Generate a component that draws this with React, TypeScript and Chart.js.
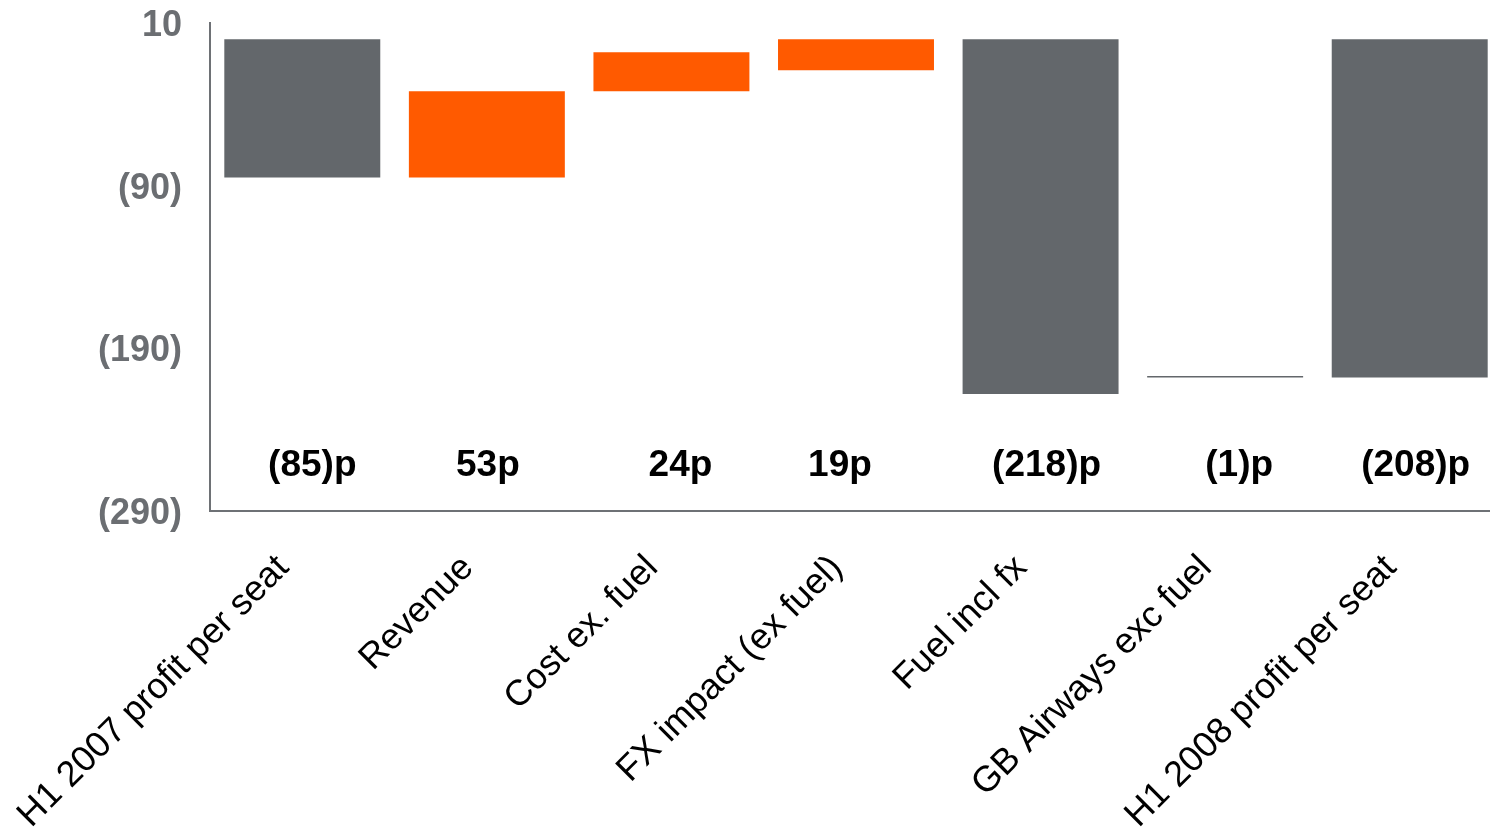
import React, { useEffect, useRef } from "react";
import { Chart, registerables } from "chart.js";

Chart.register(...registerables);

// Profit-per-seat bridge, pence
const categories = [
  "H1 2007 profit per seat",
  "Revenue",
  "Cost ex. fuel",
  "FX impact (ex fuel)",
  "Fuel incl fx",
  "GB Airways exc fuel",
  "H1 2008 profit per seat",
];
// where each floating bar starts, and the change it shows
const barBase = [0, -85, -32, -19, 0, -207, 0];
const barChange = [-85, 53, 24, 19, -218, -1, -208];
const barColors = ["#63676b", "#ff5a00", "#ff5a00", "#ff5a00", "#63676b", "#63676b", "#63676b"];
const yTickValues = [10, -90, -190, -290];
// value labels sit on one common level of the y scale
const labelLevel = -262;
const labelNudge = [10, 1, 9, -16, 6, 14, 6];

const FONT = '"Liberation Sans", Arial, sans-serif';
const AXIS_GREY = "#6e7175";

const fmtPence = (v: number) => (v < 0 ? `(${-v})p` : `${v}p`);
const fmtTick = (v: number) => (v < 0 ? `(${-v})` : `${v}`);

const valueLabels = {
  id: "valueLabels",
  afterDatasetsDraw(chart: any) {
    const meta = chart.getDatasetMeta(0);
    const y = chart.scales.y.getPixelForValue(labelLevel);
    const ctx = chart.ctx;
    ctx.save();
    ctx.font = `bold 37px ${FONT}`;
    ctx.fillStyle = "#000";
    ctx.textAlign = "center";
    ctx.textBaseline = "middle";
    meta.data.forEach((bar: any, i: number) => {
      ctx.fillText(fmtPence(barChange[i]), bar.x + labelNudge[i], y);
    });
    ctx.restore();
  },
};

export default function App() {
  const ref = useRef<HTMLCanvasElement>(null);

  useEffect(() => {
    if (!ref.current) return;
    const chart = new Chart(ref.current, {
      type: "bar",
      data: {
        labels: categories,
        datasets: [
          {
            data: barBase.map((b, i) => [b, b + barChange[i]]) as any,
            backgroundColor: barColors,
            borderWidth: 0,
            categoryPercentage: 1,
            barPercentage: 0.845,
          },
        ],
      },
      options: {
        animation: false,
        responsive: false,
        layout: { padding: { top: 23, right: 0, bottom: 0, left: 0 } },
        plugins: { legend: { display: false }, tooltip: { enabled: false } },
        scales: {
          x: {
            grid: { display: false, drawTicks: false },
            border: { display: true, color: AXIS_GREY, width: 2 },
            ticks: {
              minRotation: 45,
              maxRotation: 45,
              autoSkip: false,
              padding: 36,
              labelOffset: -19,
              color: "#000",
              font: { family: FONT, size: 36 },
            },
            afterFit: (s: any) => {
              s.height = 319;
              s.paddingLeft = 0;
              s.paddingRight = 0;
            },
          },
          y: {
            min: -290,
            max: 10,
            grid: { display: false, drawTicks: false },
            border: { display: true, color: AXIS_GREY, width: 2 },
            ticks: {
              padding: 28,
              labelOffset: 3,
              color: "#6b6e72",
              font: { family: FONT, size: 36, weight: "bold" },
              callback: (v: any) => fmtTick(Number(v)),
            },
            afterBuildTicks: (s: any) => {
              s.ticks = yTickValues.map((v) => ({ value: v }));
            },
            afterFit: (s: any) => {
              s.width = 210;
              s.paddingTop = 0;
              s.paddingBottom = 0;
            },
          },
        },
      },
      plugins: [valueLabels],
    });
    return () => chart.destroy();
  }, []);

  return (
    <div
      style={{
        position: "fixed",
        left: 0,
        top: 0,
        width: 1490,
        height: 830,
        overflow: "hidden",
        background: "#fff",
      }}
    >
      <canvas ref={ref} width={1502} height={830} style={{ display: "block" }} />
    </div>
  );
}
